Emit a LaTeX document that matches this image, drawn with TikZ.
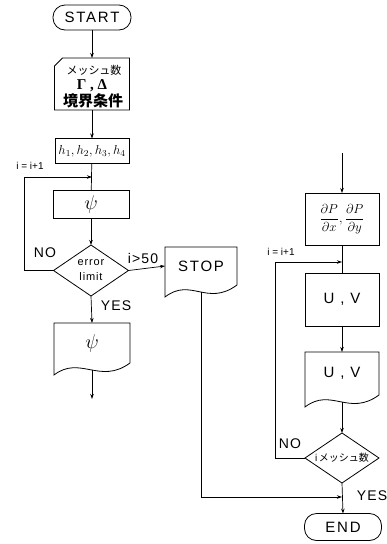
\RequirePackage{fix-cm}
\documentclass[tikz,border=0pt]{standalone}
\usepackage{fontspec}
\setmainfont{Liberation Sans}
\newfontfamily\jp{Noto Sans CJK JP}
\newfontfamily\serifgr{Liberation Serif}
\usetikzlibrary{arrows.meta,calc}
\newcommand\docshape[1]{\draw[shp] (#1.north west) -- (#1.north east) -- (#1.south east) .. controls ($(#1.south east)+(-30,22)$) and ($(#1.south west)+(26,-8)$) .. ($(#1.south west)+(0,12)$) -- cycle;}
\newcommand\diamshape[1]{\draw[shp] (#1.north) -- (#1.east) -- (#1.south) -- (#1.west) -- cycle;}
\begin{document}
\begin{tikzpicture}[x=1pt,y=-1pt,line width=0.7pt,
  >={Stealth[length=5pt,width=3.5pt]},
  shp/.style={line width=0.8pt},
  blank/.style={inner sep=0pt,outer sep=0pt},
  proc/.style={draw,line width=0.8pt,inner sep=0pt,outer sep=0pt},
  term/.style={draw,line width=0.8pt,rounded corners=12pt,inner sep=0pt,outer sep=0pt},
  big/.style={font=\fontsize{15}{15}\selectfont\addfontfeature{LetterSpace=12}},
  lab/.style={inner sep=1pt,font=\fontsize{14}{14}\selectfont\addfontfeature{LetterSpace=8}},
  small/.style={inner sep=1pt,font=\fontsize{10}{10}\selectfont}]
\useasboundingbox (0,0) rectangle (387,544);
% left column
\node[term,big,minimum width=78pt,minimum height=25pt] (start) at (92,17.5) {START};
\node[blank,minimum width=75pt,minimum height=52pt] (card) at (92,84) {};
\draw[shp] ($(card.north west)+(0,8)$) -- ($(card.north west)+(8,0)$) -- (card.north east) -- (card.south east) -- (card.south west) -- cycle;
\node[inner sep=0pt,font=\jp\fontsize{11}{11}\selectfont] (c1) at (94,70) {メッシュ数};
\node[inner sep=0pt,font=\serifgr\bfseries\fontsize{15}{15}\selectfont] (c2) at (92,86) {Γ , Δ};
\node[inner sep=0pt,font=\jp\bfseries\fontsize{15}{15}\selectfont] (c3) at (93,101) {境界条件};
\node[proc,minimum width=74pt,minimum height=25pt,font=\fontsize{13}{15}\selectfont] (hb) at (92,151) {$h_1,h_2,h_3,h_4$};
\node[proc,minimum width=76pt,minimum height=28pt,font=\fontsize{20}{20}\selectfont] (psi) at (91,204) {$\psi$};
\node[blank,minimum width=75pt,minimum height=51pt,align=center,font=\fontsize{11}{15}\selectfont\addfontfeature{LetterSpace=8}] (dec1) at (91,270.5) {error\\limit};
\diamshape{dec1}
\node[blank,minimum width=76pt,minimum height=40pt,font=\fontsize{20}{20}\selectfont] (out1) at (92,343) {$\psi$};
\docshape{out1}
\node[blank,big,minimum width=72pt,minimum height=38pt] (stop) at (201,266) {STOP};
\docshape{stop}
% right column
\node[proc,minimum width=74pt,minimum height=52pt,font=\fontsize{13}{15}\selectfont] (pb) at (342,219) {$\displaystyle\frac{\partial P}{\partial x},\frac{\partial P}{\partial y}$};
\node[proc,big,minimum width=74pt,minimum height=53pt] (uv) at (342,299.5) {U , V};
\node[blank,big,minimum width=74pt,minimum height=43pt] (uvd) at (342,373.5) {U , V};
\docshape{uvd}
\node[blank,minimum width=74pt,minimum height=50pt,font=\fontsize{10}{10}\selectfont] (dec2) at (342,458) {i\,{\jp メッシュ数}};
\diamshape{dec2}
\node[term,big,minimum width=77pt,minimum height=27pt] (end) at (343,527) {END};
% coordinates
\coordinate (j1) at (92,177);
\coordinate (l1) at (24,177);
\coordinate (o1) at (92,370);
\coordinate (e1) at (92,399);
\coordinate (s1) at (201,292);
\coordinate (s2) at (201,497);
\coordinate (m2) at (342,497);
\coordinate (rin) at (342,153);
\coordinate (j2) at (342,262);
\coordinate (l2) at (275,262);
\coordinate (o2) at (342,402);
% connectors
\draw[->] (start) -- (card);
\draw[->] (card) -- (hb);
\draw (hb) -- (psi);
\draw[->] (dec1.west) -| (l1) -- (j1);
\draw[->] (psi) -- (dec1.north);
\draw[->] (dec1.south) -- (out1.north);
\draw[->] (dec1.east) -- (stop.west);
\draw[->] (o1) -- (e1);
\draw (s1) -- (s2);
\draw[->] (s2) -- (m2);
\draw[->] (rin) -- (pb);
\draw (pb) -- (uv);
\draw[->] (dec2.west) -| (l2) -- (j2);
\draw[->] (uv) -- (uvd);
\draw[->] (o2) -- (dec2.north);
\draw[->] (dec2.south) -- (end.north);
% labels
\node[small] (li1) at (30,166) {i = i+1};
\node[lab] (no1) at (45,253) {NO};
\node[lab] (gt) at (143,258) {i>50};
\node[lab] (yes1) at (116,306) {YES};
\node[small] (li2) at (281,252) {i = i+1};
\node[lab] (no2) at (290,444) {NO};
\node[lab] (yes2) at (372,496) {YES};
\end{tikzpicture}
\end{document}
